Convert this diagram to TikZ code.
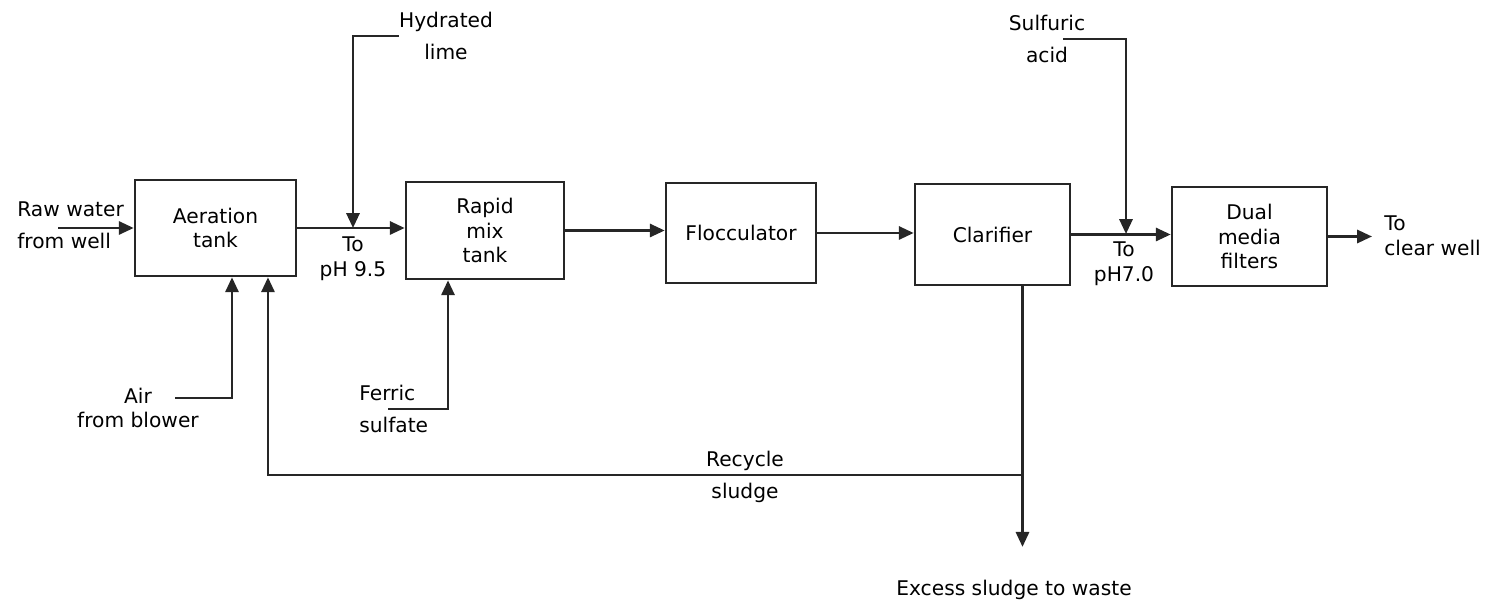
\documentclass[tikz,border=0pt]{standalone}
\usepackage{fontspec}
\setmainfont{DejaVu Sans}
\usetikzlibrary{arrows.meta, positioning}

\def\lblfont{\fontsize{11.5}{14}\selectfont}

\begin{document}
\begin{tikzpicture}[x=0.02cm, y=-0.02cm, >={Triangle[length=8.5pt, width=7.5pt]},
    flow/.style={draw=black!85, line width=1.5pt},
    box/.style={flow, rectangle, inner sep=0pt, align=center, font=\lblfont},
    lbl/.style={inner sep=0pt, align=center, font=\lblfont}]
    \useasboundingbox (0,0) rectangle (1485,604);

    % process units
    \node[box, minimum width=3.22cm, minimum height=1.92cm] (aer) at (215.5,228) {Aeration\\tank};
    \node[box, minimum width=3.16cm, minimum height=1.94cm] (rapid) at (485,230.5) {Rapid\\mix\\tank};
    \node[box, minimum width=3.0cm, minimum height=2.0cm] (floc) at (741,233) {Flocculator};
    \node[box, minimum width=3.1cm, minimum height=2.02cm] (clar) at (992.5,234.5) {Clarifier};
    \node[box, minimum width=3.1cm, minimum height=1.98cm] (dual) at (1249.5,236.5) {Dual\\media\\filters};

    % feeds and labels
    \node[lbl, align=left, anchor=west] (raw) at (17,225) {Raw water\\[4pt]from well};
    \node[lbl] (lime) at (446,36) {Hydrated\\[4pt]lime};
    \node[lbl] (ph95) at (353,259) {To\\pH 9.5};
    \node[lbl] (air) at (138,408) {Air\\from blower};
    \node[lbl, align=left, anchor=west] (ferric) at (359,409) {Ferric\\[4pt]sulfate};
    \node[lbl] (acid) at (1047,39) {Sulfuric\\[4pt]acid};
    \node[lbl] (ph70) at (1124,264) {To\\pH7.0};
    \node[lbl, align=left, anchor=west] (clearwell) at (1384,236) {To\\clear well};
    \node[lbl] (recycle) at (745,477) {Recycle\\[4pt]sludge};
    \node[lbl] (waste) at (1014,590) {Excess sludge to waste};

    \coordinate (rawfeed) at (58,228);
    \coordinate (limejoin) at (353,228);
    \coordinate (airfeed) at (175,398);
    \coordinate (ferricfeed) at (388,409);
    \coordinate (acidfeed) at (1063,39);
    \coordinate (acidjoin) at (1126,234);
    \coordinate (sludgesplit) at (1022.5,475);

    % main flow
    \draw[flow, ->] (rawfeed) -- (aer.west);
    \draw[flow, ->] (aer.east) -- (aer.east -| rapid.west);
    \draw[flow, ->] (rapid.east) -- (rapid.east -| floc.west);
    \draw[flow, ->] (floc.east) -- (floc.east -| clar.west);
    \draw[flow, ->] (clar.east) -- (clar.east -| dual.west);
    \draw[flow, ->, shorten >=0.24cm] (dual.east) -- (dual.east -| clearwell.west);

    % chemicals
    \draw[flow, ->] (lime.west) -| (limejoin);
    \draw[flow, ->] (acidfeed) -| (acidjoin);
    \draw[flow, ->] (airfeed) -| ([xshift=0.33cm]aer.south);
    \draw[flow, ->] (ferricfeed) -| ([xshift=-0.74cm]rapid.south);

    % sludge
    \draw[flow, ->, shorten >=0.66cm] ([xshift=0.6cm]clar.south) -- ([xshift=0.6cm]clar.south |- waste.north);
    \draw[flow, ->] (sludgesplit) -| ([xshift=1.05cm]aer.south);
\end{tikzpicture}
\end{document}
